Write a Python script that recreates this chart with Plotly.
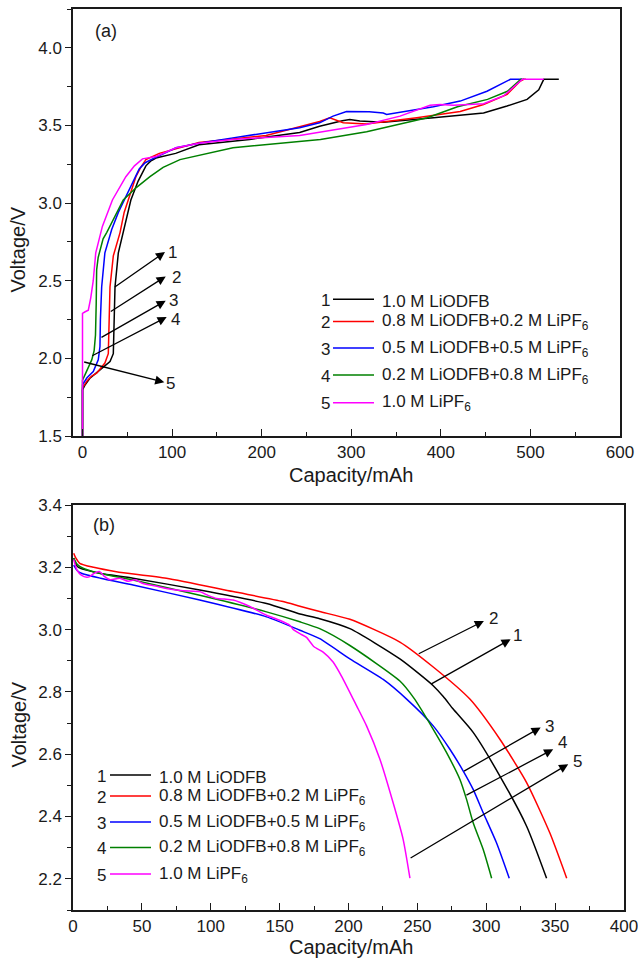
import plotly.graph_objects as go

W, H = 638, 962

series_ids = ["1", "2", "3", "4", "5"]
series_names = ["1.0 M LiODFB",
                "0.8 M LiODFB+0.2 M LiPF<sub>6</sub>",
                "0.5 M LiODFB+0.5 M LiPF<sub>6</sub>",
                "0.2 M LiODFB+0.8 M LiPF<sub>6</sub>",
                "1.0 M LiPF<sub>6</sub>"]
colors = ["#000000", "#ff0000", "#0000ff", "#008000", "#ff00ff"]

# ---------- panel (a): charge ----------
a1_x = [0, 0, 3, 8, 19.5, 26, 30.7, 34.4, 35.5, 36.3, 40, 47.4, 54, 62, 70.8, 76, 82, 104, 130, 186.5,
        242.4, 264.7, 279.7, 290, 298.4, 309.6, 320, 335.7, 391.7, 447.7, 473.9, 496.3, 509.3, 514.9, 531.7]
a1_y = [1.5, 1.797, 1.83, 1.87, 1.926, 1.955, 1.98, 2.03, 2.25, 2.46, 2.68, 2.85, 3.02, 3.14, 3.24, 3.27,
        3.29, 3.32, 3.375, 3.41, 3.455, 3.495, 3.517, 3.53, 3.539, 3.528, 3.525, 3.52, 3.55, 3.58, 3.625,
        3.668, 3.73, 3.797, 3.797]

a2_x = [0, 0, 5, 10, 15.8, 20, 25, 28.8, 29.4, 30.7, 34.4, 41.9, 46.5, 53, 59.6, 65, 70.8, 85.7, 130,
        205, 242.4, 264.7, 276, 291, 317, 373, 421.6, 447.7, 474, 488.8, 492.5, 495]
a2_y = [1.5, 1.81, 1.855, 1.885, 1.905, 1.935, 1.97, 2.03, 2.25, 2.46, 2.66, 2.81, 2.94, 3.06, 3.17, 3.23,
        3.28, 3.32, 3.39, 3.435, 3.49, 3.525, 3.55, 3.517, 3.51, 3.55, 3.59, 3.635, 3.70, 3.786, 3.797, 3.797]

a3_x = [0, 0, 5, 12, 17.6, 19.5, 20, 21.4, 25, 32.6, 40, 48.4, 56, 63.3, 70, 78.2, 104.4, 130, 167.7,
        242.4, 264.7, 279.7, 294.7, 320, 335.7, 339.5, 391.7, 421.6, 451.5, 477.6, 490.7]
a3_y = [1.5, 1.83, 1.875, 1.915, 1.99, 2.076, 2.25, 2.46, 2.68, 2.83, 2.94, 3.04, 3.14, 3.22, 3.26, 3.285,
        3.356, 3.385, 3.42, 3.485, 3.517, 3.56, 3.59, 3.588, 3.58, 3.571, 3.62, 3.657, 3.72, 3.797, 3.797]

a4_x = [0, 0, 4, 7.5, 10.3, 13, 14.5, 15.3, 15.8, 17.5, 19.5, 23, 27, 35, 45.5, 60, 75.3, 90, 108.8, 168,
        242.7, 265.6, 317.2, 384.8, 418.6, 452.1, 474.4, 489.3, 493]
a4_y = [1.5, 1.86, 1.91, 1.95, 1.99, 2.05, 2.15, 2.35, 2.57, 2.65, 2.70, 2.77, 2.81, 2.90, 3.02, 3.10,
        3.17, 3.23, 3.28, 3.356, 3.40, 3.41, 3.46, 3.55, 3.62, 3.668, 3.72, 3.797, 3.797]

a5_x = [0, 0, 3, 6.5, 9.2, 12, 14.8, 18.5, 22.2, 33.4, 48.4, 58, 67, 82, 104.4, 130, 167.7, 242.4, 264.7,
        317, 354.4, 388, 399.2, 414, 447.7, 470, 488.8, 491, 514.9]
a5_y = [1.5, 2.29, 2.30, 2.31, 2.39, 2.5, 2.68, 2.76, 2.85, 3.02, 3.17, 3.24, 3.285, 3.30, 3.356, 3.385,
        3.41, 3.435, 3.457, 3.506, 3.56, 3.63, 3.635, 3.63, 3.64, 3.69, 3.786, 3.797, 3.797]

# ---------- panel (b): discharge ----------
b1_x = [0.5, 2, 4, 9.7, 20, 43.6, 92, 140.5, 164.7, 179.1, 201, 237.3, 261.5, 268.8, 276, 290.5, 309.9, 329.3, 343.8]
b1_y = [3.23, 3.21, 3.20, 3.191, 3.18, 3.165, 3.127, 3.084, 3.05, 3.035, 3.003, 2.906, 2.82, 2.785, 2.745,
        2.67, 2.53, 2.369, 2.202]

b2_x = [0.5, 2, 4.9, 15, 31.5, 67.8, 116.2, 152.5, 164.7, 179.1, 201, 237.3, 261.5, 288.1, 309.9, 329.3, 346.2, 358.4]
b2_y = [3.245, 3.23, 3.213, 3.20, 3.186, 3.165, 3.122, 3.09, 3.075, 3.058, 3.033, 2.96, 2.88, 2.777, 2.648,
        2.509, 2.347, 2.202]

b3_x = [0.5, 3, 6.1, 20, 43.6, 92, 140.5, 164.7, 179.1, 201, 225.2, 242.2, 261.5, 273.6, 283.3, 290.5,
        297.8, 307.5, 316.7]
b3_y = [3.207, 3.19, 3.181, 3.165, 3.143, 3.095, 3.041, 2.998, 2.971, 2.906, 2.84, 2.777, 2.691, 2.616,
        2.546, 2.487, 2.412, 2.315, 2.202]

b4_x = [0.5, 3, 7.3, 20, 43.6, 92, 140.5, 164.7, 179.1, 201, 237.3, 247.5, 261.5, 271.2, 280.9, 285.7,
        290.5, 297.8, 303.9]
b4_y = [3.23, 3.21, 3.197, 3.18, 3.159, 3.11, 3.057, 3.025, 3.003, 2.949, 2.835, 2.78, 2.68, 2.605, 2.519,
        2.455, 2.38, 2.294, 2.202]

b5_x = [0.5, 3, 6, 10, 12.1, 15, 19.4, 23, 27, 33.9, 40, 45, 50.8, 60, 67.8, 80, 92, 98, 104.2, 110, 116.2,
        128, 140.5, 150, 157.4, 160, 164.7, 169.5, 175, 181.6, 188.8, 195, 205.8, 213.1, 222.8, 232.4, 239.7, 244.6]
b5_y = [3.225, 3.19, 3.175, 3.168, 3.17, 3.18, 3.186, 3.17, 3.16, 3.165, 3.155, 3.16, 3.148, 3.14, 3.132,
        3.125, 3.122, 3.11, 3.1, 3.098, 3.095, 3.075, 3.046, 3.03, 3.014, 3.0, 2.987, 2.975, 2.945, 2.928,
        2.896, 2.85, 2.756, 2.691, 2.584, 2.444, 2.326, 2.202]

# arrow annotations (tail -> head) and label positions, data units
a_arrow_tail = [(34.4, 2.453), (29.9, 2.296), (19.5, 2.13), (9.2, 2.012), (0.2, 1.979)]
a_arrow_head = [(92.1, 2.685), (92.9, 2.528), (92.9, 2.371), (94.0, 2.266), (91.3, 1.846)]
a_label_pos = [(101, 2.68), (104.4, 2.52), (102.1, 2.37), (104, 2.25), (97.7, 1.84)]

b_arrow_tail = [(259.1, 2.823), (249.9, 2.920), (282.8, 2.543), (284.5, 2.466), (244.0, 2.264)]
b_arrow_head = [(317.7, 2.969), (298.3, 3.028), (339.5, 2.686), (348.6, 2.616), (359.5, 2.568)]
b_label_pos = [(322.5, 2.982), (305.6, 3.036), (346.2, 2.689), (355.2, 2.637), (366.1, 2.576)]

FONT = "Liberation Sans, Arial, sans-serif"
INK = "#1a1a1a"

def px(xp):
    return xp / W

def py(yp):
    return 1 - yp / H

fig = go.Figure()
a_data = [(a1_x, a1_y), (a2_x, a2_y), (a3_x, a3_y), (a4_x, a4_y), (a5_x, a5_y)]
b_data = [(b1_x, b1_y), (b2_x, b2_y), (b3_x, b3_y), (b4_x, b4_y), (b5_x, b5_y)]
for i, (xs, ys) in enumerate(a_data):
    fig.add_trace(go.Scatter(x=xs, y=ys, mode="lines", line=dict(color=colors[i], width=1.5),
                             name=series_names[i], showlegend=False, xaxis="x", yaxis="y"))
for i, (xs, ys) in enumerate(b_data):
    fig.add_trace(go.Scatter(x=xs, y=ys, mode="lines",
                             line=dict(color=colors[i], width=1.5, shape="spline", smoothing=0.6),
                             name=series_names[i], showlegend=False, xaxis="x2", yaxis="y2"))

axis_common = dict(showline=True, mirror=True, linecolor=INK, linewidth=1.5, showgrid=False,
                   zeroline=False, tickfont=dict(family=FONT, size=17, color=INK), tickcolor=INK,
                   automargin=False, tickwidth=1.2, ticklabeloverflow="allow")

fig.update_layout(
    width=W, height=H, margin=dict(l=0, r=0, t=0, b=0),
    paper_bgcolor="white", plot_bgcolor="white",
    xaxis=dict(domain=[px(73), px(620)], range=[-10.6, 600], dtick=100, tick0=0, anchor="y",
               ticks="inside", ticklen=7,
               minor=dict(dtick=50, tick0=0, ticks="inside", ticklen=4, tickcolor=INK), **axis_common),
    yaxis=dict(domain=[py(436), py(9)], range=[1.5, 4.25], dtick=0.5, tick0=0, anchor="x",
               ticks="outside", ticklen=6, tickformat=".1f",
               minor=dict(dtick=0.25, tick0=0, ticks="outside", ticklen=4, tickcolor=INK), **axis_common),
    xaxis2=dict(domain=[px(73), px(624)], range=[0, 400], dtick=50, tick0=0, anchor="y2",
                ticks="inside", ticklen=7,
                minor=dict(dtick=25, tick0=0, ticks="inside", ticklen=4, tickcolor=INK), **axis_common),
    yaxis2=dict(domain=[py(910), py(505)], range=[2.1, 3.4], dtick=0.2, tick0=0, anchor="x2",
                ticks="outside", ticklen=6, tickformat=".1f",
                minor=dict(dtick=0.1, tick0=0, ticks="outside", ticklen=4, tickcolor=INK), **axis_common),
)

ann = []
shapes = []
# axis titles
for yc in (475, 946.5):
    ann.append(dict(text="Capacity/mAh", xref="paper", yref="paper", x=px(351.7), y=py(yc),
                    showarrow=False, font=dict(family=FONT, size=20, color=INK),
                    xanchor="center", yanchor="middle"))
for yc in (249.5, 724.5):
    ann.append(dict(text="Voltage/V", xref="paper", yref="paper", x=px(18), y=py(yc), textangle=-90,
                    showarrow=False, font=dict(family=FONT, size=20, color=INK),
                    xanchor="center", yanchor="middle"))
# panel labels
ann.append(dict(text="(a)", xref="paper", yref="paper", x=px(106), y=py(31), showarrow=False,
                font=dict(family=FONT, size=18, color=INK), xanchor="center", yanchor="middle"))
ann.append(dict(text="(b)", xref="paper", yref="paper", x=px(104), y=py(525), showarrow=False,
                font=dict(family=FONT, size=18, color=INK), xanchor="center", yanchor="middle"))

# arrows
for (t, h, l, sid) in zip(a_arrow_tail, a_arrow_head, a_label_pos, series_ids):
    ann.append(dict(x=h[0], y=h[1], ax=t[0], ay=t[1], xref="x", yref="y", axref="x", ayref="y",
                    text="", showarrow=True, arrowhead=2, arrowsize=1.4, arrowwidth=1.3,
                    arrowcolor="black", standoff=0, startstandoff=0))
    ann.append(dict(x=l[0], y=l[1], xref="x", yref="y", text=sid, showarrow=False,
                    font=dict(family=FONT, size=17, color=INK), xanchor="center", yanchor="middle"))
for (t, h, l, sid) in zip(b_arrow_tail, b_arrow_head, b_label_pos, series_ids):
    ann.append(dict(x=h[0], y=h[1], ax=t[0], ay=t[1], xref="x2", yref="y2", axref="x2", ayref="y2",
                    text="", showarrow=True, arrowhead=2, arrowsize=1.4, arrowwidth=1.3,
                    arrowcolor="black", standoff=0, startstandoff=0))
    ann.append(dict(x=l[0], y=l[1], xref="x2", yref="y2", text=sid, showarrow=False,
                    font=dict(family=FONT, size=17, color=INK), xanchor="center", yanchor="middle"))

# legends (number, sample line, label)
legend_a_rows = [299.3, 321.5, 348, 375, 402.8]
legend_b_rows = [775, 796, 822, 847.5, 874]
for rows, xnum, xl0, xl1, xtext in ((legend_a_rows, 332, 333, 374, 380),
                                     (legend_b_rows, 107.5, 110, 151, 156.5)):
    for i, yr in enumerate(rows):
        ann.append(dict(text=series_ids[i], xref="paper", yref="paper", x=px(xnum), y=py(yr + 1),
                        showarrow=False, font=dict(family=FONT, size=17, color=INK),
                        xanchor="right", yanchor="middle"))
        shapes.append(dict(type="line", xref="paper", yref="paper", x0=px(xl0), x1=px(xl1),
                           y0=py(yr), y1=py(yr), line=dict(color=colors[i], width=1.5)))
        has_sub = "<sub>" in series_names[i]
        ann.append(dict(text=series_names[i], xref="paper", yref="paper", x=px(xtext),
                        y=py(yr + (13.5 if has_sub else 2)), showarrow=False,
                        font=dict(family=FONT, size=17, color=INK), xanchor="left",
                        yanchor="bottom" if has_sub else "middle"))

fig.update_layout(annotations=ann, shapes=shapes)
fig.write_html("out.html", config={"displayModeBar": False},
               post_script="document.body.style.margin='0';document.body.style.padding='0';")
